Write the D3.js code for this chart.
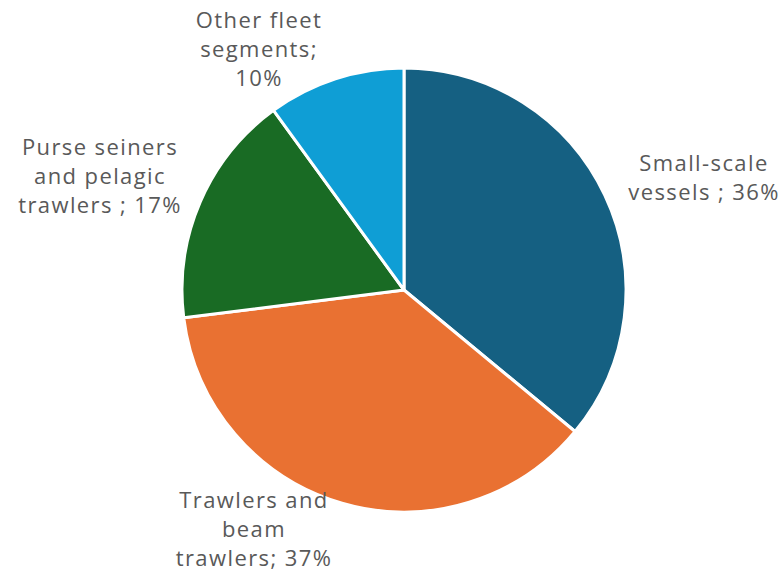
<!DOCTYPE html>
<html>
<head>
<meta charset="utf-8">
<script src="https://cdn.jsdelivr.net/npm/d3@7"></script>
<style>
    body { margin: 0; background: #fff; }
    text { font-family: "Open Sans", sans-serif; fill: #595959; }
</style>
</head>
<body>
<svg id="chart" width="782" height="573"></svg>
<script>
// chart data
var categories = ["Small-scale vessels", "Trawlers and beam trawlers", "Purse seiners and pelagic trawlers", "Other fleet segments"]
var shares = [36, 37, 17, 10]
var labelLines = [
    ["Small-scale", "vessels ; 36%"],
    ["Trawlers and", "beam", "trawlers; 37%"],
    ["Purse seiners", "and pelagic", "trawlers ; 17%"],
    ["Other fleet", "segments;", "10%"]
]
var colors = ["#156082", "#E97132", "#196B24", "#0F9ED5"]

// layout
var cx = 404, cy = 290, radius = 222
var lineHeight = 29
// label block centres (x, y of first line)
var labelPos = [[704, 163], [254, 500], [100, 147], [259, 20]]

var svg = d3.select("#chart")

var pie = d3.pie().sort(null).value(function(d){ return d })
var arc = d3.arc().innerRadius(0).outerRadius(radius)

var g = svg.append("g").attr("transform", "translate(" + cx + "," + cy + ")")

g.selectAll("path")
    .data(pie(shares))
    .enter()
        .append("path")
        .attr("d", arc)
        .attr("fill", function(d, i){ return colors[i] })
        .attr("stroke", "#fff")
        .attr("stroke-width", 3)
        .attr("stroke-linejoin", "round")

var labels = svg.selectAll("text.label")
    .data(labelLines)
    .enter()
        .append("text")
        .attr("class", "label")
        .attr("text-anchor", "middle")
        .attr("font-size", 22)
        .attr("letter-spacing", 1.4)

labels.each(function(lines, i)
{
    var t = d3.select(this)
    for(var j=0; j<lines.length; j++)
    {
        t.append("tspan")
            .attr("x", labelPos[i][0])
            .attr("y", labelPos[i][1] + j*lineHeight)
            .attr("dy", "0.35em")
            .text(lines[j])
    }
})
</script>
</body>
</html>
